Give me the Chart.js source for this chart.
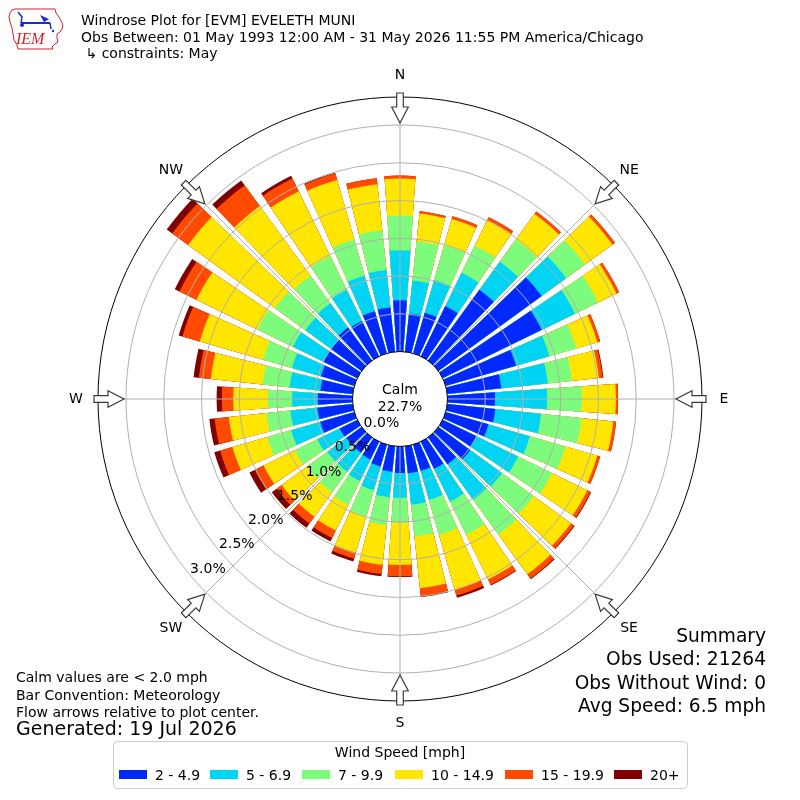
<!DOCTYPE html>
<html>
<head>
<meta charset="utf-8">
<title>Windrose Plot for [EVM] EVELETH MUNI</title>
<script src="https://cdn.jsdelivr.net/npm/chart.js@4.4.1/dist/chart.umd.min.js"></script>
<style>
html,body{margin:0;padding:0;background:#ffffff;}
#box{position:relative;width:800px;height:800px;}
canvas{display:block;}
</style>
</head>
<body>
<div id="box"><canvas id="rose" width="800" height="800"></canvas></div>
<script>
// ---- data (percent of observations per 10-degree sector) ----
const directions = [0,10,20,30,40,50,60,70,80,90,100,110,120,130,140,150,160,170,180,190,200,210,220,230,240,250,260,270,280,290,300,310,320,330,340,350];
const speedBins = ['2 - 4.9','5 - 6.9','7 - 9.9','10 - 14.9','15 - 19.9','20+'];
const binColors = ['#0028ff','#00d4f5','#7dfb7d','#ffe600','#ff4a00','#800000'];
const spd2to5   = [0.68,0.51,0.56,0.74,1.16,1.69,1.46,0.97,0.72,0.63,0.64,0.59,0.50,0.52,0.44,0.40,0.36,0.36,0.35,0.34,0.30,0.26,0.25,0.25,0.26,0.47,0.47,0.46,0.43,0.46,0.50,0.50,0.54,0.52,0.58,0.59];
const spd5to7   = [0.66,0.44,0.45,0.49,0.46,0.40,0.49,0.46,0.62,0.69,0.61,0.57,0.61,0.52,0.58,0.48,0.40,0.42,0.33,0.34,0.33,0.32,0.31,0.31,0.33,0.40,0.36,0.34,0.41,0.40,0.45,0.42,0.40,0.46,0.49,0.50];
const spd7to10  = [0.46,0.52,0.48,0.40,0.36,0.31,0.34,0.37,0.32,0.46,0.54,0.49,0.50,0.52,0.57,0.49,0.48,0.42,0.33,0.37,0.36,0.35,0.34,0.33,0.33,0.33,0.32,0.32,0.36,0.40,0.52,0.50,0.45,0.50,0.50,0.53];
const spd10to15 = [0.49,0.37,0.36,0.38,0.42,0.45,0.27,0.29,0.36,0.45,0.42,0.44,0.52,0.61,0.65,0.66,0.76,0.69,0.56,0.53,0.50,0.38,0.40,0.42,0.46,0.48,0.50,0.46,0.69,0.87,0.90,1.42,1.14,0.95,0.82,0.61];
const spd15to20 = [0.04,0.03,0.04,0.04,0.04,0.04,0.04,0.04,0.05,0.03,0.04,0.04,0.05,0.05,0.07,0.08,0.08,0.11,0.15,0.12,0.08,0.11,0.11,0.08,0.13,0.17,0.19,0.15,0.16,0.24,0.25,0.26,0.34,0.19,0.09,0.08];
const spd20plus = [0,0,0,0,0,0,0,0,0.01,0,0,0,0.01,0.01,0.01,0.01,0.03,0.01,0.01,0.03,0.04,0.05,0.07,0.08,0.08,0.08,0.07,0.07,0.07,0.05,0.07,0.09,0.08,0.04,0.01,0];
const ringTicks = [0,0.5,1.0,1.5,2.0,2.5,3.0];
const ringLabels = ['0.0%','0.5%','1.0%','1.5%','2.0%','2.5%','3.0%'];
const compassDirs = [0,45,90,135,180,225,270,315];
const compassNames = ['N','NE','E','SE','S','SW','W','NW'];
const calmPercent = '22.7%';
const titleLines = ['Windrose Plot for [EVM] EVELETH MUNI','Obs Between: 01 May 1993 12:00 AM - 31 May 2026 11:55 PM America/Chicago',' \u21b3 constraints: May'];
const noteLines = ['Calm values are < 2.0 mph','Bar Convention: Meteorology','Flow arrows relative to plot center.'];
const generatedLine = 'Generated: 19 Jul 2026';
const summaryLines = ['Summary','Obs Used: 21264','Obs Without Wind: 0','Avg Speed: 6.5 mph'];
const legendTitle = 'Wind Speed [mph]';

const series = [spd2to5, spd5to7, spd7to10, spd10to15, spd15to20, spd20plus];
const BAR_DEG = 8, GAP_DEG = 2;
const FONT = '"DejaVu Sans", "Liberation Sans", sans-serif';

// cumulative stacks, each sector followed by a transparent gap slot
const sectorLabels = [];
directions.forEach(d => { sectorLabels.push(d + '\u00b0'); sectorLabels.push(''); });
let running = directions.map(() => 0);
const datasets = series.map((s, i) => {
  running = running.map((v, j) => v + s[j]);
  const cum = running.slice();
  return {
    label: speedBins[i],
    data: cum.flatMap(v => [v, 0]),
    backgroundColor: ctx => (ctx.dataIndex % 2 ? 'rgba(0,0,0,0)' : binColors[i]),
    borderWidth: 0,
    angle: ctx => (ctx.dataIndex % 2 ? GAP_DEG : BAR_DEG)
  };
});

function polar(cx, cy, r, deg) {
  const a = (deg - 90) * Math.PI / 180;
  return [cx + r * Math.cos(a), cy + r * Math.sin(a)];
}

function drawLogo(ctx) {
  ctx.save();
  ctx.strokeStyle = '#d0202a';
  ctx.lineWidth = 1;
  const pts = [[15,9],[55,9],[56,13],[59,17],[61,21],[63,25],[62,29],[60,32],[57,34],[57,38],[58,42],[55,44],[52,47],[53,49],[18,49],[17,45],[14,40],[13,34],[12,28],[10,22],[9,17],[10,13],[12,10]];
  ctx.beginPath();
  pts.forEach((p, i) => i ? ctx.lineTo(p[0], p[1]) : ctx.moveTo(p[0], p[1]));
  ctx.closePath();
  ctx.stroke();
  ctx.strokeStyle = '#1a2bd6';
  ctx.fillStyle = '#1a2bd6';
  ctx.lineWidth = 2;
  ctx.beginPath(); ctx.moveTo(21,23); ctx.lineTo(50,23); ctx.stroke();
  ctx.lineWidth = 1.5;
  ctx.beginPath(); ctx.moveTo(18,12); ctx.lineTo(22,17); ctx.lineTo(21,23); ctx.stroke();
  ctx.beginPath(); ctx.moveTo(40,15); ctx.lineTo(49,19); ctx.lineTo(44,22); ctx.closePath(); ctx.fill();
  ctx.beginPath(); ctx.arc(22,25,2,0,Math.PI*2); ctx.fill();
  ctx.beginPath(); ctx.moveTo(50,23); ctx.lineTo(51,29); ctx.stroke();
  ctx.beginPath(); ctx.arc(53,31,1.2,0,Math.PI*2); ctx.fill();
  ctx.fillStyle = '#d0202a';
  ctx.font = 'italic 16px "Liberation Serif", "DejaVu Serif", serif';
  ctx.textAlign = 'left';
  ctx.textBaseline = 'alphabetic';
  ctx.fillText('IEM', 16, 44);
  ctx.restore();
}

const rosePlugin = {
  id: 'rosePlugin',
  beforeDraw(chart) {
    const ctx = chart.ctx;
    ctx.save();
    ctx.fillStyle = '#ffffff';
    ctx.fillRect(0, 0, chart.width, chart.height);
    ctx.restore();
  },
  afterDatasetsDraw(chart) {
    const ctx = chart.ctx;
    const sc = chart.scales.r;
    const cx = sc.xCenter, cy = sc.yCenter;
    const R = v => sc.getDistanceFromCenterForValue(v);
    const rOut = R(sc.max), r0 = R(0);
    ctx.save();
    // rings
    ctx.strokeStyle = '#b0b0b0';
    ctx.lineWidth = 1;
    ringTicks.forEach(v => {
      if (v <= 0) return;
      ctx.beginPath(); ctx.arc(cx, cy, R(v), 0, Math.PI * 2); ctx.stroke();
    });
    // spokes
    compassDirs.forEach(d => {
      const p = polar(cx, cy, rOut, d);
      ctx.beginPath(); ctx.moveTo(cx, cy); ctx.lineTo(p[0], p[1]); ctx.stroke();
    });
    // outer circle
    ctx.strokeStyle = '#000000';
    ctx.lineWidth = 1;
    ctx.beginPath(); ctx.arc(cx, cy, rOut, 0, Math.PI * 2); ctx.stroke();
    // flow arrows
    compassDirs.forEach(d => {
      const a = (d - 90) * Math.PI / 180;
      const ux = Math.cos(a), uy = Math.sin(a), vx = -uy, vy = ux;
      const shape = [[rOut + 4, -3.3], [rOut + 4, 3.3], [rOut - 10, 3.3], [rOut - 10, 8.3], [rOut - 26, 0], [rOut - 10, -8.3], [rOut - 10, -3.3]];
      ctx.beginPath();
      shape.forEach((s, i) => {
        const x = cx + s[0] * ux + s[1] * vx, y = cy + s[0] * uy + s[1] * vy;
        i ? ctx.lineTo(x, y) : ctx.moveTo(x, y);
      });
      ctx.closePath();
      ctx.fillStyle = '#ffffff';
      ctx.fill();
      ctx.strokeStyle = '#3a3a3a';
      ctx.lineWidth = 1.2;
      ctx.stroke();
    });
    // calm circle
    ctx.beginPath(); ctx.arc(cx, cy, r0, 0, Math.PI * 2);
    ctx.fillStyle = '#ffffff'; ctx.fill();
    ctx.strokeStyle = '#000000'; ctx.lineWidth = 1; ctx.stroke();
    // calm text
    ctx.fillStyle = '#000000';
    ctx.font = '14px ' + FONT;
    ctx.textAlign = 'center';
    ctx.textBaseline = 'middle';
    ctx.fillText('Calm', cx, cy - 9);
    ctx.fillText(calmPercent, cx, cy + 8);
    // ring labels
    ctx.textAlign = 'left';
    ctx.textBaseline = 'bottom';
    ringTicks.forEach((v, i) => {
      const p = polar(cx, cy, R(v), 230);
      ctx.fillText(ringLabels[i], p[0], p[1] + 1);
    });
    // compass labels
    ctx.textAlign = 'center';
    ctx.textBaseline = 'middle';
    compassDirs.forEach((d, i) => {
      const p = polar(cx, cy, rOut + 22, d);
      ctx.fillText(compassNames[i], p[0], p[1]);
    });
    ctx.restore();
  },
  afterDraw(chart) {
    const ctx = chart.ctx;
    ctx.save();
    drawLogo(ctx);
    ctx.fillStyle = '#000000';
    ctx.textBaseline = 'alphabetic';
    ctx.textAlign = 'left';
    ctx.font = '14px ' + FONT;
    titleLines.forEach((t, i) => ctx.fillText(t, 81, 25 + i * 16.5));
    noteLines.forEach((t, i) => ctx.fillText(t, 16, 682 + i * 17.5));
    ctx.font = '19px ' + FONT;
    ctx.fillText(generatedLine, 16, 735);
    ctx.font = '18.6px ' + FONT;
    ctx.textAlign = 'right';
    summaryLines.forEach((t, i) => ctx.fillText(t, 766, 642 + i * 23.3));
    // legend box
    ctx.beginPath();
    if (ctx.roundRect) ctx.roundRect(113.5, 741.5, 574, 47, 4); else ctx.rect(113.5, 741.5, 574, 47);
    ctx.fillStyle = 'rgba(255,255,255,0.8)';
    ctx.fill();
    ctx.strokeStyle = '#cccccc';
    ctx.lineWidth = 1;
    ctx.stroke();
    ctx.fillStyle = '#000000';
    ctx.font = '14px ' + FONT;
    ctx.textAlign = 'center';
    ctx.fillText(legendTitle, 400, 757);
    const swX = [119, 210, 302, 395, 505, 614];
    ctx.textAlign = 'left';
    speedBins.forEach((b, i) => {
      ctx.fillStyle = binColors[i];
      ctx.fillRect(swX[i], 770, 28, 9);
      ctx.fillStyle = '#000000';
      ctx.fillText(b, swX[i] + 36, 779.5);
    });
    ctx.restore();
  }
};

new Chart(document.getElementById('rose'), {
  type: 'polarArea',
  data: { labels: sectorLabels, datasets: datasets },
  options: {
    responsive: false,
    animation: false,
    events: [],
    layout: { padding: { left: 98, right: 98, top: 97, bottom: 99 } },
    plugins: { legend: { display: false }, tooltip: { enabled: false }, title: { display: false } },
    scales: {
      r: {
        min: -0.629,
        max: 3.371,
        startAngle: -BAR_DEG / 2,
        ticks: { display: false },
        grid: { display: false },
        angleLines: { display: false },
        pointLabels: { display: false }
      }
    }
  },
  plugins: [rosePlugin]
});
</script>
</body>
</html>
